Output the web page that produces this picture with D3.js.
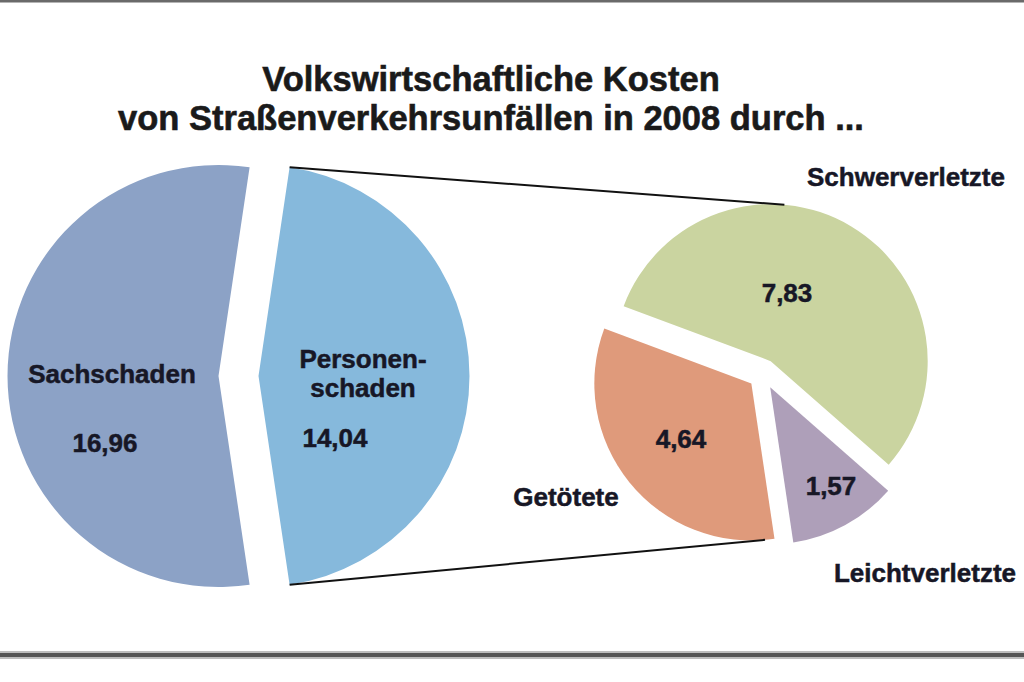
<!DOCTYPE html>
<html>
<head>
<meta charset="utf-8">
<script src="https://cdn.jsdelivr.net/npm/d3@7"></script>
<style>
  body { margin: 0; background: #fff; }
  svg { display: block; font-family: "Liberation Sans", Arial, sans-serif; font-weight: bold; }
</style>
</head>
<body>
<svg width="1024" height="682"></svg>
<script>
const width = 1024, height = 682;
const svg = d3.select("svg");

// Data: main pie and breakdown of Personenschaden
const mainCategories = ["Personenschaden", "Sachschaden"];
const mainValues = [14.04, 16.96];
const mainLabels = ["14,04", "16,96"];

const subCategories = ["Schwerverletzte", "Leichtverletzte", "Getötete"];
const subValues = [7.83, 1.57, 4.64];
const subLabels = ["7,83", "1,57", "4,64"];

const titleLines = ["Volkswirtschaftliche Kosten", "von Straßenverkehrsunfällen in 2008 durch ..."];

// Layout / styles
const mainColors = ["#86b9dc", "#8ca2c6"];
const subColors = ["#cad4a0", "#ae9fb9", "#df9a7b"];
const textColor = "#171726";

const mainPie = { cx: 238.5, cy: 376, r: 211, explode: 20 };
const subPie = { cx: 763, cy: 374, r: 157, explode: 15 };

// Frame lines
svg.append("rect").attr("x", 0).attr("y", 0).attr("width", width).attr("height", 2.5).attr("fill", "#6a6a6a");
svg.append("rect").attr("x", 0).attr("y", 651).attr("width", width).attr("height", 8).attr("fill", "#bdbdbd");
svg.append("rect").attr("x", 0).attr("y", 653).attr("width", width).attr("height", 4).attr("fill", "#555");

// Title
svg.selectAll(".title")
    .data(titleLines)
    .enter().append("text")
    .attr("class", "title")
    .attr("x", 491)
    .attr("y", (d, i) => 91 + i * 39)
    .attr("text-anchor", "middle")
    .style("font-size", "34.5px")
    .attr("fill", "#1a1a1a")
    .attr("stroke", "#1a1a1a")
    .attr("stroke-width", 0.6)
    .text(d => d);

// Offset of an exploded slice along its middle angle
function explodeOffset(d, e) {
    const a = (d.startAngle + d.endAngle) / 2;
    return [Math.sin(a) * e, -Math.cos(a) * e];
}

function pointAt(cx, cy, r, a) {
    return [cx + Math.sin(a) * r, cy - Math.cos(a) * r];
}

// Main pie: Personenschaden centered on the right side
const mainShare = mainValues[0] / d3.sum(mainValues) * Math.PI;
const mainArcs = d3.pie().sort(null)
    .startAngle(Math.PI / 2 - mainShare)
    .endAngle(Math.PI / 2 - mainShare + 2 * Math.PI)(mainValues);

const mainArc = d3.arc().innerRadius(0).outerRadius(mainPie.r);

svg.append("g")
    .attr("transform", `translate(${mainPie.cx},${mainPie.cy})`)
    .selectAll("path")
    .data(mainArcs)
    .enter().append("path")
    .attr("transform", d => `translate(${explodeOffset(d, mainPie.explode)})`)
    .attr("d", mainArc)
    .attr("fill", (d, i) => mainColors[i]);

// Sub pie
const subArcs = d3.pie().sort(null)
    .startAngle(-69.5 * Math.PI / 180)
    .endAngle(-69.5 * Math.PI / 180 + 2 * Math.PI)(subValues);

const subArc = d3.arc().innerRadius(0).outerRadius(subPie.r);

svg.append("g")
    .attr("transform", `translate(${subPie.cx},${subPie.cy})`)
    .selectAll("path")
    .data(subArcs)
    .enter().append("path")
    .attr("transform", d => `translate(${explodeOffset(d, subPie.explode)})`)
    .attr("d", subArc)
    .attr("fill", (d, i) => subColors[i]);

// Connector lines from Personenschaden to the breakdown pie
const pers = mainArcs[0];
const persOff = explodeOffset(pers, mainPie.explode);
const pc = [mainPie.cx + persOff[0], mainPie.cy + persOff[1]];
const schwerOff = explodeOffset(subArcs[0], subPie.explode);
const getOff = explodeOffset(subArcs[2], subPie.explode);

const connectors = [
    [pointAt(pc[0], pc[1], mainPie.r, pers.startAngle),
     pointAt(subPie.cx + schwerOff[0], subPie.cy + schwerOff[1], subPie.r, 5 * Math.PI / 180)],
    [pointAt(pc[0], pc[1], mainPie.r, pers.endAngle),
     pointAt(subPie.cx + getOff[0], subPie.cy + getOff[1], subPie.r, 175 * Math.PI / 180)]
];

svg.selectAll(".connector")
    .data(connectors)
    .enter().append("line")
    .attr("class", "connector")
    .attr("x1", d => d[0][0]).attr("y1", d => d[0][1])
    .attr("x2", d => d[1][0]).attr("y2", d => d[1][1])
    .attr("stroke", "#111")
    .attr("stroke-width", 2);

// Labels
const labels = [
    { lines: ["Sachschaden"], x: 112, y: 383 },
    { lines: ["Personen-", "schaden"], x: 363, y: 368 },
    { lines: [mainLabels[1]], x: 105, y: 452 },
    { lines: [mainLabels[0]], x: 335, y: 447 },
    { lines: [subCategories[0]], x: 906, y: 186 },
    { lines: [subLabels[0]], x: 787, y: 302 },
    { lines: [subCategories[2]], x: 566, y: 506 },
    { lines: [subLabels[2]], x: 681, y: 448 },
    { lines: [subCategories[1]], x: 925, y: 582 },
    { lines: [subLabels[1]], x: 831, y: 495 }
];

const labelText = svg.selectAll(".label")
    .data(labels)
    .enter().append("text")
    .attr("class", "label")
    .attr("text-anchor", "middle")
    .style("font-size", "26px")
    .attr("fill", textColor)
    .attr("stroke", textColor)
    .attr("stroke-width", 0.5);

labelText.selectAll("tspan")
    .data(d => d.lines.map((t, i) => ({ t, i, x: d.x, y: d.y })))
    .enter().append("tspan")
    .attr("x", d => d.x)
    .attr("y", d => d.y + d.i * 29)
    .text(d => d.t);
</script>
</body>
</html>
